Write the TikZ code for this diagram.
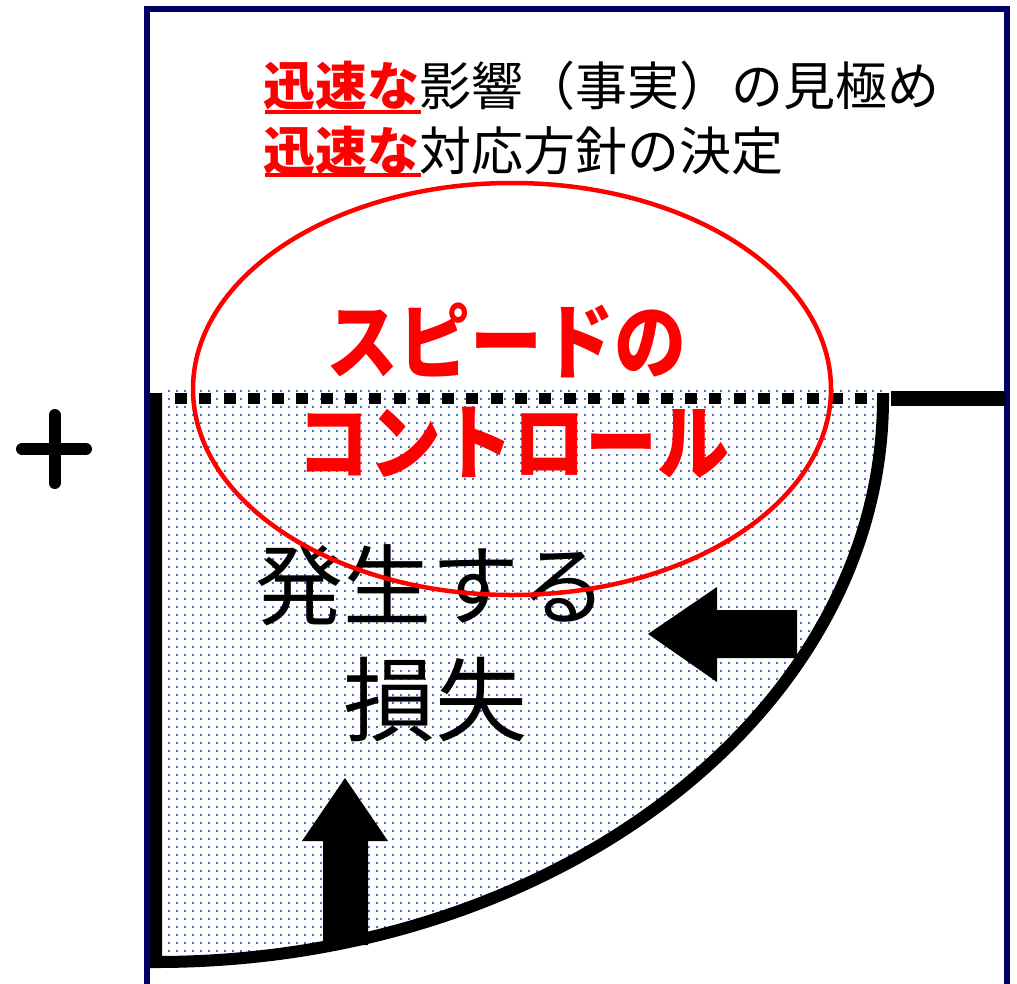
\documentclass[tikz,border=0pt]{standalone}
\usepackage{fontspec}
\newfontfamily\jp{Noto Sans CJK JP}
\definecolor{navyframe}{HTML}{000066}
\definecolor{dotblue}{HTML}{4472C4}
\definecolor{accentred}{HTML}{FF0000}
\tikzset{
  thickblack/.style={line width=12pt, black},
  framestyle/.style={line width=6pt, navyframe},
  redtitle/.style={text=accentred, font=\jp\bfseries\fontsize{72}{72}\selectfont, inner sep=0pt},
  losstext/.style={text=black, font=\jp\fontsize{88}{88}\selectfont, inner sep=0pt},
  topline/.style={font=\jp\fontsize{52}{52}\selectfont, inner sep=0pt, anchor=west},
  blockarrow/.style={fill=black, draw=none},
  underl/.style={accentred, line width=3.5pt},
  dotrow/.style={dotblue, line width=2.1pt, dash pattern=on 2.1pt off 5.9pt}
}
\begin{document}
\begin{tikzpicture}[x=1pt, y=-1pt]
\useasboundingbox (0,0) rectangle (1017,983);
\clip (0,0) rectangle (1017,983);
\fill[white] (0,0) rectangle (1017,983);
% frame
\draw[framestyle] (147,1000) -- (147,9) -- (1007,9) -- (1007,1000);
% dotted fill region
\begin{scope}
\clip (162,388) -- (883,388) -- (883,398) .. controls (883,712) and (556,962) .. (156,962) -- (162,962) -- cycle;
\foreach \yy in {391.05,399.05,...,975} \draw[dotrow] (160,\yy) -- (890,\yy);
\end{scope}
% plus
\draw[line width=12pt, line cap=round] (22,449) -- (86,449) (54.5,415) -- (54.5,483);
% top lines
\node[topline] (t1) at (263,86) {\textcolor{accentred}{\bfseries 迅速な}影響（事実）の見極め};
\node[topline] (t2) at (263,151) {\textcolor{accentred}{\bfseries 迅速な}対応方針の決定};
\draw[underl] (265,112) -- (421,112);
\draw[underl] (265,175) -- (421,175);
% arrows
\fill[blockarrow] (648,634) -- (717,587) -- (717,610) -- (797,610) -- (797,658) -- (717,658) -- (717,682) -- cycle;
\fill[blockarrow] (345,778) -- (388,841) -- (368,841) -- (368,945) -- (323,945) -- (323,841) -- (302,841) -- cycle;
% loss text
\node[losstext] (loss1) at (431,585) {発生する};
\node[losstext, font=\jp\fontsize{92}{92}\selectfont] (loss2) at (435,700) {損失};
% dotted boundary
\draw[line width=11pt, dash pattern=on 12pt off 12.29pt] (175,398) -- (867,398);
\draw[line width=15pt] (891,398) -- (1006,398);
% thick curve
\draw[thickblack] (156,393) -- (156,962) .. controls (556,962) and (883,712) .. (883,398) -- (883,393);
% red ellipse and title
\draw[accentred, line width=4.5pt] (512,389) ellipse [x radius=319, y radius=206];
\node[redtitle] (sp1) at (506,340) {\scalebox{1}[1.15]{スピードの}};
\node[redtitle] (sp2) at (513,443) {\scalebox{1}[1.15]{コントロール}};
\end{tikzpicture}
\end{document}
